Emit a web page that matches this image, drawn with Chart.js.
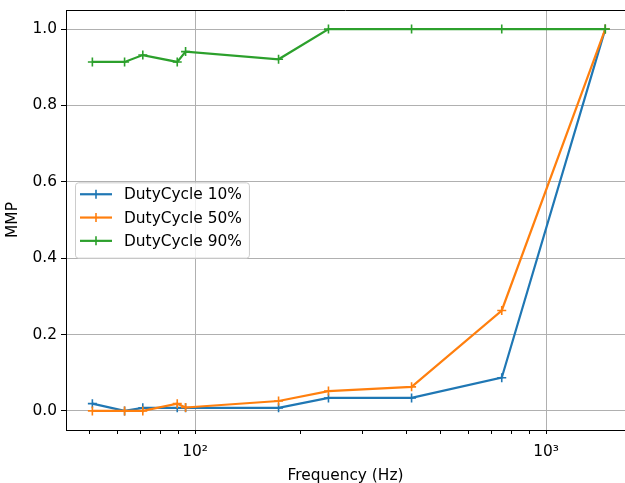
<!DOCTYPE html>
<html>
<head>
<meta charset="utf-8">
<script src="https://cdn.jsdelivr.net/npm/chart.js@4.4.1/dist/chart.umd.min.js"></script>
<style>
    html, body { margin: 0; padding: 0; background: #fff; overflow: hidden; }
    #wrap { width: 625px; height: 483px; }
</style>
</head>
<body>
<div id="wrap"><canvas id="chart" width="625" height="483"></canvas></div>
<script>
// values
let frequencies = [51, 63, 71, 89, 94, 173, 240, 414, 748, 1475]
let duty10 = [0.019, 0.0, 0.008, 0.008, 0.008, 0.008, 0.034, 0.034, 0.087, 1.0]
let duty50 = [0.0, 0.0, 0.0, 0.019, 0.009, 0.026, 0.052, 0.063, 0.263, 1.0]
let duty90 = [0.914, 0.914, 0.932, 0.914, 0.941, 0.921, 1.0, 1.0, 1.0, 1.0]
let seriesNames = ['DutyCycle 10%', 'DutyCycle 50%', 'DutyCycle 90%']
let seriesColors = ['#1f77b4', '#ff7f0e', '#2ca02c']
let yTicks = [0, 0.2, 0.4, 0.6, 0.8, 1.0]
let xTicks = [50, 60, 70, 80, 90, 100, 200, 300, 400, 500, 600, 700, 800, 900, 1000]
let xMajorLabels = { 100: '10²', 1000: '10³' }

let fontPx = 15.4

Chart.defaults.font.family = '"DejaVu Sans", sans-serif'
Chart.defaults.font.size = fontPx
Chart.defaults.color = '#000'

function makeDataset(i, values) {
    return {
        label: seriesNames[i],
        data: frequencies.map((f, k) => ({ x: f, y: values[k] })),
        borderColor: seriesColors[i],
        backgroundColor: seriesColors[i],
        borderWidth: 2.2,
        pointStyle: 'cross',
        pointRadius: 4.5,
        pointBorderWidth: 1.6,
        pointHoverRadius: 4.5,
        tension: 0,
        fill: false,
        order: 3 - i
    }
}

function noScalePadding(scale) {
    scale.paddingLeft = 0
    scale.paddingRight = 0
    scale.paddingTop = 0
    scale.paddingBottom = 0
}

// top spine (matplotlib draws a box round the axes)
const topSpine = {
    id: 'topSpine',
    afterDraw(chart) {
        const { ctx, chartArea } = chart
        ctx.save()
        ctx.strokeStyle = '#000'
        ctx.lineWidth = 1
        ctx.beginPath()
        ctx.moveTo(chartArea.left, chartArea.top + 0.5)
        ctx.lineTo(chartArea.right, chartArea.top + 0.5)
        ctx.stroke()
        ctx.restore()
    }
}

// legend in matplotlib style, centre left inside the axes
const boxLegend = {
    id: 'boxLegend',
    afterDatasetsDraw(chart) {
        const { ctx, chartArea } = chart
        ctx.save()
        ctx.font = fontPx + 'px "DejaVu Sans"'
        let textW = Math.max(...seriesNames.map(n => ctx.measureText(n).width))
        let rowH = 23.3
        let h = 75.3
        let w = 49 + textW + 7
        let left = chartArea.left + 9
        let top = (chartArea.top + chartArea.bottom) / 2 - h / 2
        ctx.beginPath()
        ctx.roundRect(left + 0.5, top + 0.5, w, h, 3)
        ctx.fillStyle = 'rgba(255,255,255,0.8)'
        ctx.fill()
        ctx.strokeStyle = '#cccccc'
        ctx.lineWidth = 1
        ctx.stroke()

        chart.data.datasets.forEach((ds, i) => {
            let y = top + 11.9 + i * rowH
            ctx.strokeStyle = ds.borderColor
            ctx.lineWidth = 2.2
            ctx.beginPath()
            ctx.moveTo(left + 5, y)
            ctx.lineTo(left + 37, y)
            ctx.stroke()
            ctx.lineWidth = 1.6
            ctx.beginPath()
            ctx.moveTo(left + 21, y - 4.5)
            ctx.lineTo(left + 21, y + 4.5)
            ctx.stroke()
            ctx.fillStyle = '#000'
            ctx.textBaseline = 'middle'
            ctx.textAlign = 'left'
            ctx.fillText(ds.label, left + 49, y + 1)
        })
        ctx.restore()
    }
}

new Chart(document.getElementById('chart'), {
    type: 'line',
    data: {
        datasets: [makeDataset(0, duty10), makeDataset(1, duty50), makeDataset(2, duty90)]
    },
    options: {
        responsive: false,
        animation: false,
        layout: { autoPadding: false, padding: { left: 0, top: 10, right: 0, bottom: 0 } },
        plugins: {
            legend: { display: false },
            tooltip: { enabled: false }
        },
        scales: {
            x: {
                type: 'logarithmic',
                min: 42.9,
                max: 1679,
                afterBuildTicks: scale => {
                    scale.ticks = xTicks.map(v => ({ value: v, major: !!xMajorLabels[v] }))
                },
                afterFit: scale => {
                    scale.height = 53
                    noScalePadding(scale)
                },
                ticks: {
                    autoSkip: false,
                    maxRotation: 0,
                    padding: 9,
                    callback: v => xMajorLabels[v] || ''
                },
                grid: {
                    color: c => (c.tick && xMajorLabels[c.tick.value]) ? '#b0b0b0' : 'rgba(0,0,0,0)',
                    tickColor: '#000',
                    tickLength: 4,
                    lineWidth: 1
                },
                border: { color: '#000', width: 1 },
                title: {
                    display: true,
                    text: 'Frequency (Hz)',
                    padding: { top: 0, bottom: -2 }
                }
            },
            y: {
                min: -0.05,
                max: 1.05,
                afterBuildTicks: scale => {
                    scale.ticks = yTicks.map(v => ({ value: v }))
                },
                afterFit: scale => {
                    scale.width = 66
                    noScalePadding(scale)
                },
                ticks: {
                    padding: 4,
                    callback: v => v.toFixed(1)
                },
                grid: {
                    color: '#b0b0b0',
                    tickColor: '#000',
                    tickLength: 5,
                    lineWidth: 1
                },
                border: { color: '#000', width: 1 },
                title: {
                    display: true,
                    text: 'MMP',
                    padding: { top: 4, bottom: 0 }
                }
            }
        }
    },
    plugins: [topSpine, boxLegend]
})
</script>
</body>
</html>
